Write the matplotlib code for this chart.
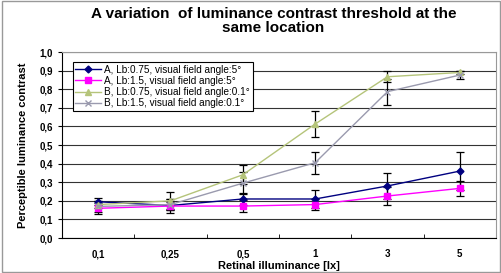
import numpy as np
import matplotlib.pyplot as plt
from matplotlib.patches import Rectangle
from matplotlib.lines import Line2D

plt.rcParams['font.family'] = ['Liberation Sans', 'DejaVu Sans']

categories = ['0,1', '0,25', '0,5', '1', '3', '5']

a_075 = [0.195, 0.175, 0.21, 0.21, 0.28, 0.36]
a_075_err = [0.02, 0.02, 0.03, 0.05, 0.07, 0.10]
a_15 = [0.16, 0.172, 0.172, 0.18, 0.226, 0.267]
a_15_err = [0.03, 0.04, 0.03, 0.03, 0.05, 0.04]
b_075 = [0.18, 0.20, 0.34, 0.613, 0.867, 0.89]
b_075_err = [0.02, 0.05, 0.05, 0.07, 0.03, 0.01]
b_15 = [0.17, 0.18, 0.295, 0.405, 0.787, 0.876]
b_15_err = [0.03, 0.03, 0.06, 0.06, 0.07, 0.02]

labels = ['A, Lb:0.75, visual field angle:5°',
          'A, Lb:1.5, visual field angle:5°',
          'B, Lb:0.75, visual field angle:0.1°',
          'B, Lb:1.5, visual field angle:0.1°']

fig = plt.figure(figsize=(5.02, 2.73), dpi=100)
fig.patches.append(Rectangle((0.003, 0.005), 0.994, 0.99, transform=fig.transFigure,
                             fill=False, edgecolor='#999999', lw=1))
ax = fig.add_axes([0.1235, 0.128, 0.8645, 0.6815])

x = np.arange(len(categories))
series = [
    (a_075, a_075_err, '#000080', 'D', 3.5),
    (a_15, a_15_err, '#FF00FF', 's', 5),
    (b_075, b_075_err, '#B5C47A', '^', 5),
    (b_15, b_15_err, '#9A9AAE', 'x', 5),
]
handles = []
for (vals, err, col, mk, ms), lab in zip(series, labels):
    ax.errorbar(x, vals, yerr=err, color=col, marker=mk, markersize=ms, lw=1,
                ecolor='black', elinewidth=0.9, capsize=3, capthick=0.9)
    handles.append(Line2D([], [], color=col, marker=mk, markersize=ms, lw=1, label=lab))

ax.set_xlim(-0.5, 5.5)
ax.set_ylim(0, 1.0)
ax.set_yticks(np.arange(0, 1.01, 0.1))
ax.set_yticklabels([('%.1f' % v).replace('.', ',') for v in np.arange(0, 1.01, 0.1)],
                   fontsize=7, fontweight='bold')
ax.set_xticks(x)
ax.set_xticklabels(categories, fontsize=7, fontweight='bold')
ax.tick_params(axis='x', length=0, pad=8)
ax.tick_params(axis='y', length=3, direction='out')
ax.set_xticks(np.arange(0.5, 5.5, 1), minor=True)
ax.tick_params(axis='x', which='minor', length=3, direction='in')
ax.yaxis.grid(True, color='#333333', lw=0.8)
ax.set_axisbelow(True)
for s in ['top', 'right']:
    ax.spines[s].set_color('#999999')
for s in ['left', 'bottom']:
    ax.spines[s].set_color('black')

ax.set_xlabel('Retinal illuminance [lx]', fontsize=8, fontweight='bold', labelpad=1)
ax.set_ylabel('Perceptible luminance contrast', fontsize=8, fontweight='bold', labelpad=8)
fig.suptitle('A variation  of luminance contrast threshold at the\nsame location',
             fontsize=11, fontweight='bold', x=0.545, y=0.975, linespacing=1.05)

leg = ax.legend(handles=handles, loc='upper left', bbox_to_anchor=(0.025, 0.945),
                fontsize=7.2, frameon=True, fancybox=False, borderpad=0.25,
                labelspacing=0.12, handlelength=2.6, handletextpad=0.3, borderaxespad=0)
leg.get_frame().set_edgecolor('black')
leg.get_frame().set_linewidth(0.8)
leg.get_frame().set_alpha(1)

fig.savefig('out.png', dpi=100)
